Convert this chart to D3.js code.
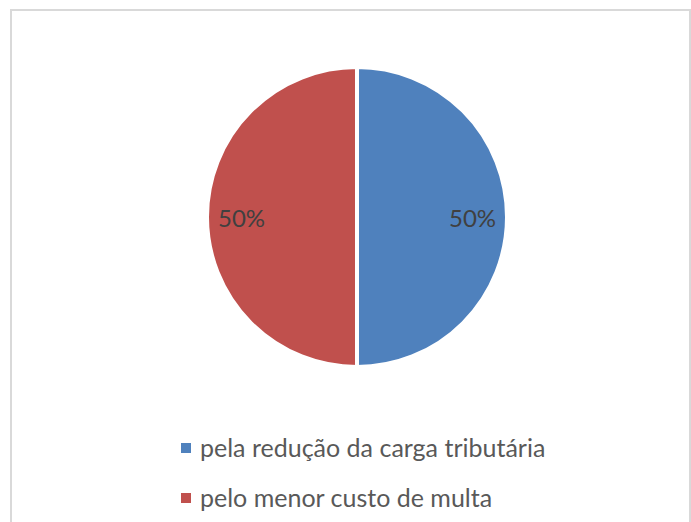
<!DOCTYPE html>
<html>
<head>
<meta charset="utf-8">
<script src="https://cdn.jsdelivr.net/npm/d3@7"></script>
<style>
  body { margin: 0; background: #fff; }
  svg { display: block; }
</style>
</head>
<body>
<svg id="chart" width="691" height="522"></svg>
<script>
// data
var categories = ['pela redução da carga tributária', 'pelo menor custo de multa'];
var values = [50, 50];
var colors = ['#4f81bd', '#c0504d'];

var width = 691, height = 522;
var cx = 357, cy = 217, radius = 150;
var fontFamily = 'Lato, "Open Sans", sans-serif';

var svg = d3.select('#chart');

// chart area frame
svg.append('rect')
    .attr('x', 11).attr('y', 10)
    .attr('width', 679).attr('height', height)
    .style('fill', '#fff')
    .style('stroke', '#d9d9d9')
    .style('stroke-width', 2);

var data = categories.map(function(c, i) { return { label: c, value: values[i], color: colors[i] }; });

var pie = d3.pie().sort(null).value(function(d) { return d.value; });
var arc = d3.arc().innerRadius(0).outerRadius(radius);
var labelArc = d3.arc().innerRadius(radius * 0.77).outerRadius(radius * 0.77);

var g = svg.append('g').attr('transform', 'translate(' + cx + ',' + cy + ')');

var slices = g.selectAll('g.slice').data(pie(data)).enter().append('g').attr('class', 'slice');

slices.append('path')
    .attr('d', arc)
    .style('fill', function(d) { return d.data.color; })
    .style('stroke', '#fff')
    .style('stroke-width', 4);

slices.append('text')
    .attr('transform', function(d) {
        var c = labelArc.centroid(d);
        return 'translate(' + c[0] + ',' + c[1] + ')';
    })
    .attr('text-anchor', 'middle')
    .attr('dy', '0.4em')
    .style('font-family', fontFamily)
    .style('font-size', '24px')
    .style('fill', '#404040')
    .text(function(d) { return d.data.value + '%'; });

// legend
var legend = svg.append('g').attr('transform', 'translate(181,443)');
var items = legend.selectAll('g').data(data).enter().append('g')
    .attr('transform', function(d, i) { return 'translate(0,' + (i * 50) + ')'; });
items.append('rect')
    .attr('width', 10).attr('height', 10)
    .style('fill', function(d) { return d.color; });
items.append('text')
    .attr('x', 19).attr('y', 14)
    .style('font-family', fontFamily)
    .style('font-size', '25px')
    .style('fill', '#595959')
    .text(function(d) { return d.label; });
</script>
</body>
</html>
